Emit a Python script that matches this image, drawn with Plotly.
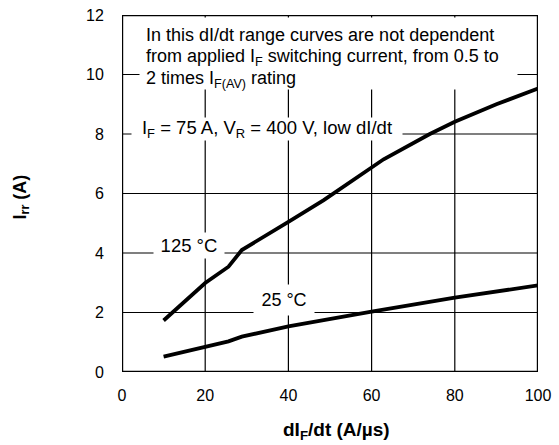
import plotly.graph_objects as go

# Data
x_125 = [10, 20, 25.6, 28.8, 40, 48.5, 62.9, 74, 80, 90, 100]
y_125 = [1.73, 2.99, 3.54, 4.10, 5.05, 5.78, 7.15, 8.0, 8.41, 9.0, 9.53]
x_25 = [10, 20, 25.6, 28.8, 40, 60, 80, 100]
y_25 = [0.52, 0.86, 1.03, 1.19, 1.53, 2.03, 2.50, 2.91]

x_ticks = [0, 20, 40, 60, 80, 100]
y_ticks = [0, 2, 4, 6, 8, 10, 12]
x_range = [x_ticks[0], x_ticks[-1]]
y_range = [y_ticks[0], y_ticks[-1]]

note_lines = ["In this dI/dt range curves are not dependent",
              "from applied I<sub>F</sub> switching current, from 0.5 to",
              "2 times I<sub>F(AV)</sub> rating"]

FONT = "Liberation Sans, Arial, Helvetica, sans-serif"

fig = go.Figure()

# grid lines built from the tick lists (drawn as a trace so they render reliably)
gx, gy = [], []
for t in x_ticks[1:-1]:
    gx += [t, t, None]
    gy += [y_range[0], y_range[1], None]
for t in y_ticks[1:-1]:
    gx += [x_range[0], x_range[1], None]
    gy += [t, t, None]
fig.add_trace(go.Scatter(x=gx, y=gy, mode="lines", line=dict(color="black", width=1.2),
                         hoverinfo="skip", showlegend=False))

fig.add_trace(go.Scatter(x=x_125, y=y_125, mode="lines",
                         line=dict(color="black", width=3.8), showlegend=False))
fig.add_trace(go.Scatter(x=x_25, y=y_25, mode="lines",
                         line=dict(color="black", width=3.8), showlegend=False))

# plot frame from the axis ranges
fig.add_trace(go.Scatter(
    x=[x_range[0], x_range[1], x_range[1], x_range[0], x_range[0]],
    y=[y_range[0], y_range[0], y_range[1], y_range[1], y_range[0]],
    mode="lines", line=dict(color="black", width=2.4), cliponaxis=False,
    hoverinfo="skip", showlegend=False))

ann_font = dict(size=18.5, color="black", family=FONT)
note_font = dict(size=18, color="black", family=FONT)
annotations = [
    # white background behind the note block
    dict(text=" ", x=49.7, y=10.70, xref="x", yref="y", xanchor="center", yanchor="middle",
         width=377, height=71, showarrow=False, bgcolor="white", borderpad=0, font=note_font),
]
for txt, yv in zip(note_lines, [11.32, 10.56, 9.82]):
    annotations.append(dict(text=txt, x=5.6, y=yv, xref="x", yref="y", xanchor="left",
                            yanchor="middle", align="left", showarrow=False,
                            borderpad=0, font=note_font))
annotations += [
    dict(text="I<sub>F</sub> = 75 A, V<sub>R</sub> = 400 V, low dI/dt",
         x=34.9, y=8.18, xref="x", yref="y", xanchor="center", yanchor="middle",
         width=270, height=22, showarrow=False, bgcolor="white", borderpad=0,
         font=ann_font),
    dict(text="125 °C", x=16.0, y=4.25, xref="x", yref="y",
         width=70, height=25, showarrow=False, bgcolor="white", borderpad=0,
         font=ann_font),
    dict(text="25 °C", x=39.0, y=2.43, xref="x", yref="y",
         width=60, height=30, showarrow=False, bgcolor="white", borderpad=0,
         font=dict(size=18, color="black", family=FONT)),
    dict(text="<b>dI<sub>F</sub>/dt (A/µs)</b>", x=0.5, y=0, xref="paper", yref="paper",
         xanchor="center", yanchor="middle", xshift=6, yshift=-59, showarrow=False,
         font=dict(size=19, color="black", family=FONT)),
    dict(text="<b>I<sub>rr</sub> (A)</b>", x=0, y=0.5, xref="paper", yref="paper",
         xanchor="center", yanchor="middle", xshift=-101, yshift=-4, textangle=-90,
         showarrow=False, font=dict(size=18, color="black", family=FONT)),
]

fig.update_layout(
    width=559, height=445,
    margin=dict(l=122, r=21, t=15, b=73, autoexpand=False),
    paper_bgcolor="white", plot_bgcolor="white",
    font=dict(family=FONT, size=16, color="black"),
    annotations=annotations,
    hovermode=False,
)
fig.update_xaxes(range=x_range, tickvals=x_ticks, showgrid=False, showline=False,
                 zeroline=False, ticks="outside", ticklen=9, tickcolor="white",
                 tickfont=dict(size=16, color="black", family=FONT))
fig.update_yaxes(range=y_range, tickvals=y_ticks, showgrid=False, showline=False,
                 zeroline=False, ticks="outside", ticklen=14, tickcolor="white",
                 tickfont=dict(size=16, color="black", family=FONT))

fig.write_html("out.html", config={"displayModeBar": False},
               post_script="document.body.style.margin='0px';document.body.style.overflow='hidden';")
